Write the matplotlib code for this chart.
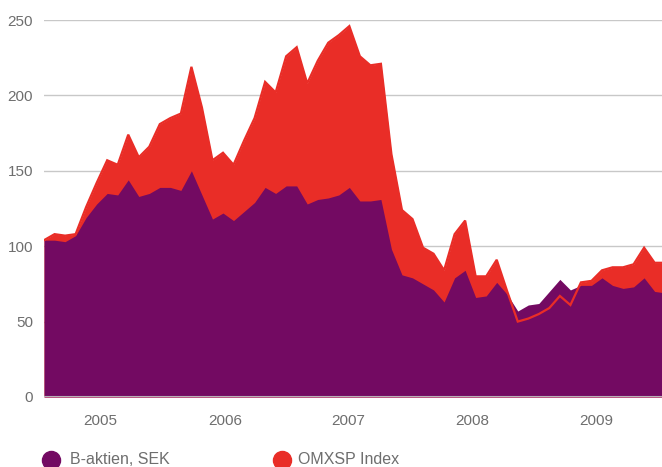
import numpy as np
import matplotlib
matplotlib.use("Agg")
import matplotlib.pyplot as plt
from matplotlib.lines import Line2D

plt.rcParams['font.family'] = ['Liberation Sans', 'DejaVu Sans']

# Data (monthly, indexed)
omxsp = [104, 108, 107, 108, 126, 142, 157, 154, 174, 159, 166, 181, 185, 188, 219,
         192, 157, 162, 154, 170, 185, 209, 202, 226, 232, 208, 223, 235, 240, 246,
         226, 220, 221, 161, 124, 118, 99, 95, 84, 108, 117, 80, 80, 91, 70,
         50, 52, 55, 59, 67, 61, 76, 77, 84, 86, 86, 88, 99, 89, 89]
baktien = [104, 104, 103, 107, 119, 128, 135, 134, 144, 133, 135, 139, 139, 137, 150,
           134, 118, 122, 117, 123, 129, 139, 135, 140, 140, 128, 131, 132, 134, 139,
           130, 130, 131, 98, 81, 79, 75, 71, 63, 79, 84, 66, 67, 76, 68,
           57, 61, 62, 70, 78, 71, 74, 74, 79, 74, 72, 73, 79, 70, 69]
years = ['2005', '2006', '2007', '2008', '2009']
year_pos = [5.3, 17.2, 28.9, 40.7, 52.5]
y_ticks = [0, 50, 100, 150, 200, 250]

PURPLE = '#730A62'
RED = '#E92D27'
GREY = '#6E6E6E'

x = np.arange(len(omxsp))

fig = plt.figure(figsize=(6.62, 4.67), dpi=100)
ax = fig.add_axes([0.0665, 0.15, 0.9335, 0.807])

# grid behind the areas
for yv in y_ticks[1:]:
    ax.axhline(yv, color='#C8C8C8', lw=1.0, zorder=0)

ax.fill_between(x, 0, omxsp, color=RED, lw=0, zorder=1)
ax.fill_between(x, 0, baktien, color=PURPLE, lw=0, zorder=2)
ax.plot(x, omxsp, color=RED, lw=1.6, zorder=3, solid_joinstyle='miter')
ax.axhline(0, color='#B8B0B8', lw=1.5, zorder=4)

ax.set_xlim(0, 58.7)
ax.set_ylim(0, 250)
ax.set_yticks(y_ticks)
ax.set_xticks(year_pos)
ax.set_xticklabels(years)
ax.tick_params(axis='both', length=0, labelsize=11, labelcolor=GREY)
ax.tick_params(axis='y', pad=8)
ax.tick_params(axis='x', pad=12)
for s in ax.spines.values():
    s.set_visible(False)

# legend
ly = 1 - 460 / 467
fig.add_artist(Line2D([51 / 662], [ly], marker='o', markersize=13,
                      color=PURPLE, lw=0, transform=fig.transFigure))
fig.text(70 / 662, ly, 'B-aktien, SEK', fontsize=11.5, color=GREY,
         va='center', ha='left')
fig.add_artist(Line2D([282 / 662], [ly], marker='o', markersize=13,
                      color=RED, lw=0, transform=fig.transFigure))
fig.text(298 / 662, ly, 'OMXSP Index', fontsize=11.5, color=GREY,
         va='center', ha='left')

fig.savefig('out.png', dpi=100)
